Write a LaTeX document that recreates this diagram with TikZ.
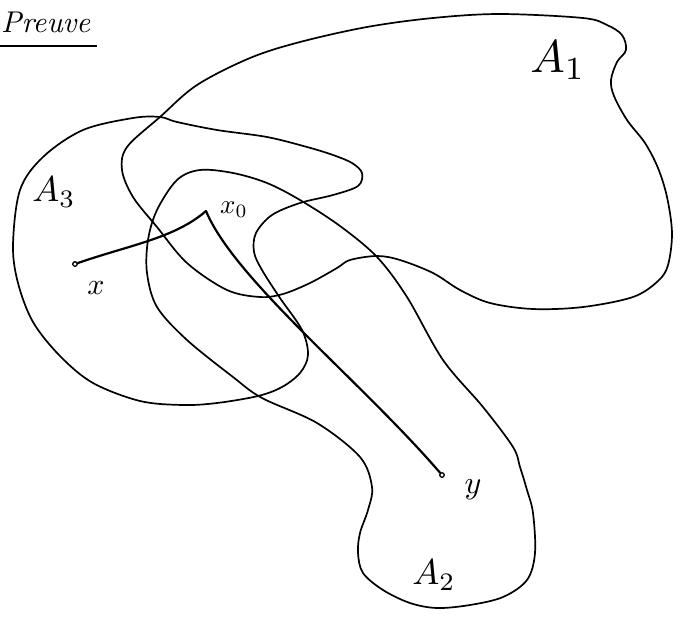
\documentclass[tikz,border=0pt]{standalone}
\usepackage{graphicx}
\tikzset{
  region/.style={line width=1.7pt, line join=round},
  link/.style={line width=2.2pt, line cap=round},
  pt/.style={circle, draw, line width=1.3pt, inner sep=1.6pt, fill=white},
  lbl/.style={inner sep=0pt},
}
\begin{document}
\begin{tikzpicture}[x=1pt,y=-1pt]
\useasboundingbox (0,0) rectangle (683,619);
% heading
\node[lbl, anchor=south west] (head) at (1,33) {\scalebox{3.0}{\itshape Preuve}};
\draw[line width=2pt] (0,46) -- (97,46);
% A1
\draw[region] plot[smooth cycle, tension=0.55] coordinates {
 (160,117) (197,85) (250,58) (300,42) (367,27) (433,18) (500,14) (583,18)
 (607,25) (622,35) (626,50) (617,62) (611,80) (614,96) (627,120) (645,143)
 (658,168) (667,197) (672,233) (668,265) (658,281) (633,297) (583,307)
 (533,309) (490,303) (460,290) (433,273) (400,260) (377,256) (350,260)
 (337,268) (310,283) (283,294) (260,297) (227,290) (187,263) (157,227)
 (133,197) (122,170) (127,147)};
% A3
\draw[region] plot[smooth cycle, tension=0.55] coordinates {
 (160,117) (177,122) (217,130) (267,137) (307,147) (333,155) (352,163)
 (362,173) (358,186) (333,195) (300,203) (272,215) (256,233) (254,252)
 (262,270) (280,298) (302,330) (308,355) (300,373) (282,387) (258,396)
 (217,403) (183,405) (140,401) (93,383) (60,356) (33,322) (18,283)
 (13,245) (20,190) (43,157) (83,130) (133,118)};
% A2
\draw[region] plot[smooth cycle, tension=0.55] coordinates {
 (200,170) (233,173) (267,183) (300,200) (340,226) (377,257)
 (407,297) (443,360) (483,407) (513,447) (520,467) (527,490) (533,513)
 (535,553) (527,580) (503,597) (470,605) (437,608) (410,603) (383,590)
 (363,573) (358,553) (360,533) (368,510) (372,487) (360,457) (317,423)
 (262,398) (233,377) (187,340) (157,307) (147,273) (148,240) (157,210)
 (177,180)};
% points
\node[pt] (x) at (75,264) {};
\coordinate (x0) at (206,211);
\node[pt] (y) at (442,475) {};
\draw[link] (x) .. controls (130,245) and (175,238) .. (x0);
\draw[link] (x0) .. controls (235,280) and (360,380) .. (y);
% labels
\node[lbl] (A1) at (558,60) {\scalebox{4.6}{$A_1$}};
\node[lbl] (A3) at (54,192) {\scalebox{3.6}{$A_3$}};
\node[lbl] (A2) at (434,575) {\scalebox{3.6}{$A_2$}};
\node[lbl] (xl) at (96,288) {\scalebox{3.0}{$x$}};
\node[lbl] (x0l) at (234,210) {\scalebox{2.7}{$x_0$}};
\node[lbl] (yl) at (473,490) {\scalebox{3.2}{$y$}};
\end{tikzpicture}
\end{document}
